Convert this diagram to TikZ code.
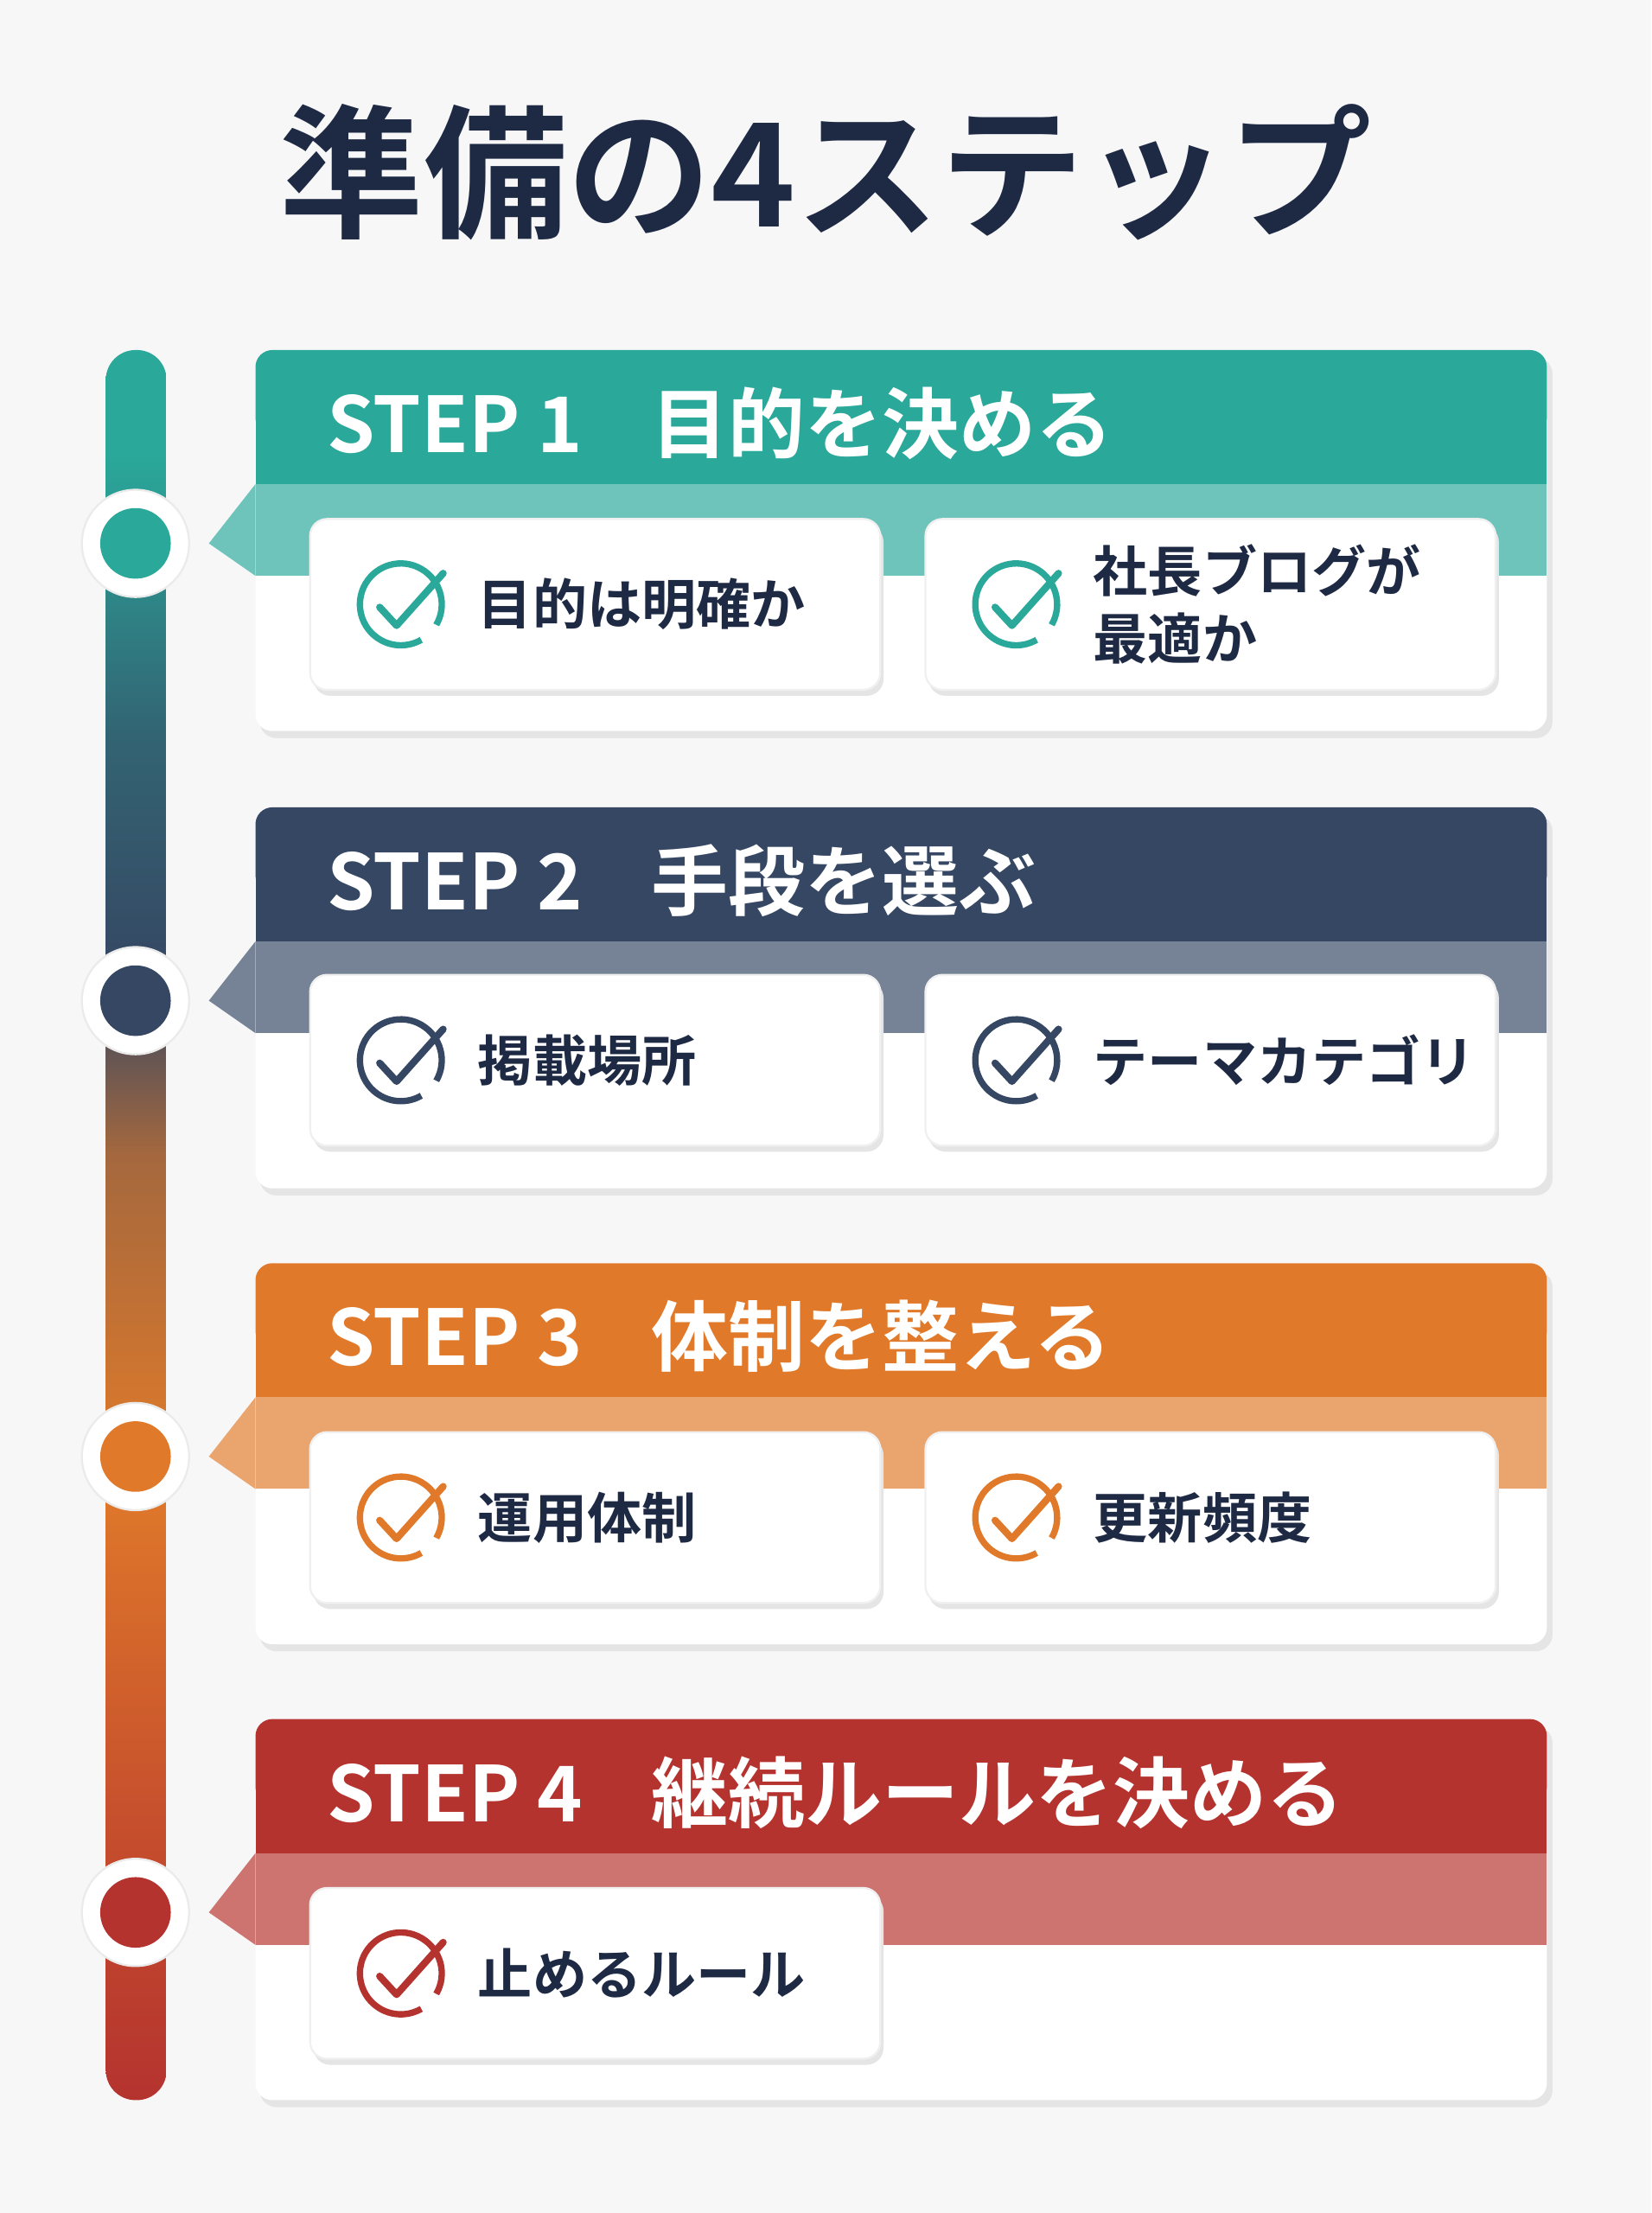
\documentclass[tikz,border=0pt]{standalone}
\usepackage{fontspec}
\setmainfont{Noto Sans CJK JP}[BoldFont={* Bold}]
\usetikzlibrary{calc}
\definecolor{tealc}{HTML}{2AA89A}
\definecolor{navyc}{HTML}{364763}
\definecolor{orangec}{HTML}{E07A2A}
\definecolor{redc}{HTML}{B5332F}
\definecolor{titlec}{HTML}{1E2A44}
\definecolor{bgc}{HTML}{F7F7F8}
\pgfdeclareverticalshading{barshade}{100bp}{color(0bp)=(redc);color(25bp)=(redc);color(33bp)=(redc!60!orangec);color(43bp)=(orangec);color(52bp)=(orangec!65!navyc);color(57bp)=(navyc);color(64bp)=(navyc!70!tealc);color(72bp)=(tealc);color(75bp)=(tealc);color(100bp)=(tealc)}
\tikzset{
 hdr/.style={font=\bfseries\fontsize{15.5}{19}\selectfont,text=white,anchor=west,inner sep=0},
 sub/.style={font=\bfseries\fontsize{11}{13.5}\selectfont,text=titlec,anchor=west,align=left,inner sep=0},
}
\newcommand{\chk}[3]{% name, pos, color
 \coordinate (#1) at #2;
 \draw[#3,line width=0.45mm] ($(#1)+(30:29)$) arc (30:-300:29);
 \draw[#3,line width=0.5mm,line cap=round,line join=round] ($(#1)+(-15,2)$) -- ($(#1)+(-3,15)$) -- ($(#1)+(30,-22)$);
}
\newcommand{\subcard}[5]{% name, x0, y0, color, text
 \fill[black!10,rounded corners=1.2mm] ($(#2,#3)+(3,5)$) rectangle ++(404,121);
 \node[draw=black!6,fill=white,rounded corners=1.2mm,minimum width=404*0.1mm,minimum height=121*0.1mm,inner sep=0,anchor=north west] (#1) at (#2,#3) {};
 \chk{#1c}{($(#1.west)+(65,0)$)}{#4}
 \node[sub] (#1t) at ($(#1.west)+(119,0)$) {#5};
}
\newcommand{\stepcard}[4]{% name, y0, color, header
 \fill[black!10,rounded corners=1.2mm] (184,#2+5) rectangle (1100,#2+275);
 \fill[white,rounded corners=1.2mm] (181,#2) rectangle (1096,#2+270);
 \fill[#3,rounded corners=1.2mm] (181,#2) rectangle (1096,#2+60);
 \fill[#3] (181,#2+30) rectangle (1096,#2+95);
 \fill[#3!68!white] (181,#2+95) rectangle (1096,#2+160);
 \fill[#3!68!white] (181,#2+95) -- (148,#2+137) -- (181,#2+160) -- cycle;
 \node[hdr] (#1h) at (231,#2+52) {#4};
 \node[circle,fill=white,draw=black!8,minimum size=76*0.1mm] (#1o) at (96,#2+137) {};
 \node[circle,fill=#3,minimum size=50*0.1mm] (#1i) at (96,#2+137) {};
}
\begin{document}
\begin{tikzpicture}[x=0.1mm,y=-0.1mm]
\fill[bgc] (0,0) rectangle (1170,1568);
\useasboundingbox (0,0) rectangle (1170,1568);
\node[font=\bfseries\fontsize{29}{34}\selectfont,text=titlec] (title) at (585,122) {準備の4ステップ};
\begin{scope}
\clip[rounded corners=2.1mm] (75,248) rectangle (118,1488);
\shade[shading=barshade] (75,248) rectangle (118,1488);
\end{scope}
\stepcard{s1}{248}{tealc}{STEP 1\hspace{0.9em}目的を決める}
\subcard{a1}{219}{367}{tealc}{目的は明確か}
\subcard{a2}{655}{367}{tealc}{社長ブログが\\最適か}
\stepcard{s2}{572}{navyc}{STEP 2\hspace{0.9em}手段を選ぶ}
\subcard{b1}{219}{690}{navyc}{掲載場所}
\subcard{b2}{655}{690}{navyc}{テーマカテゴリ}
\stepcard{s3}{895}{orangec}{STEP 3\hspace{0.9em}体制を整える}
\subcard{c1}{219}{1014}{orangec}{運用体制}
\subcard{c2}{655}{1014}{orangec}{更新頻度}
\stepcard{s4}{1218}{redc}{STEP 4\hspace{0.9em}継続ルールを決める}
\subcard{d1}{219}{1337}{redc}{止めるルール}
\end{tikzpicture}
\end{document}
